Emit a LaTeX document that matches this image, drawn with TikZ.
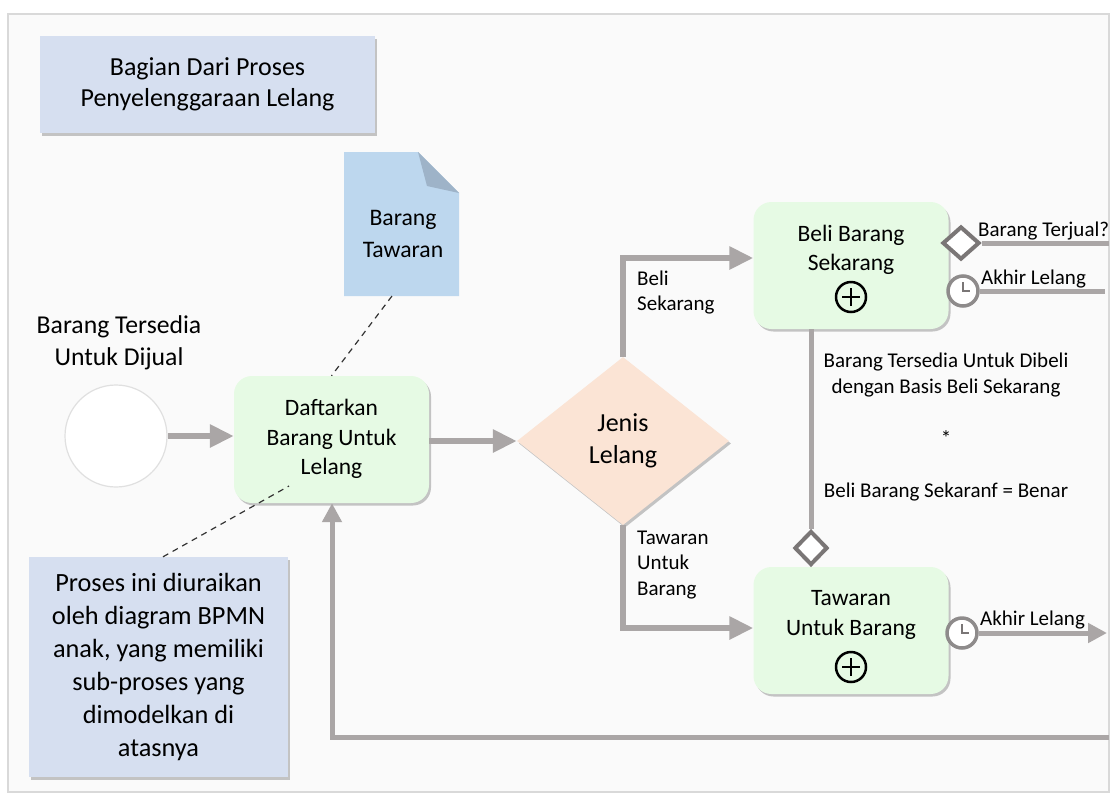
\documentclass[tikz,border=0pt]{standalone}
\usepackage{fontspec}
\setmainfont{Carlito}
\usetikzlibrary{shapes.geometric, arrows.meta, shadows}
\definecolor{flowgray}{RGB}{170,166,166}
\definecolor{markgray}{RGB}{122,118,118}
\definecolor{taskfill}{RGB}{230,250,228}
\definecolor{notefill}{RGB}{214,223,240}
\definecolor{gwfill}{RGB}{251,228,213}
\definecolor{docfill}{RGB}{189,215,238}
\definecolor{docfold}{RGB}{158,179,200}
\definecolor{framedraw}{RGB}{217,217,217}
\definecolor{framefill}{RGB}{250,250,250}
\newcommand{\fsz}[2]{\fontsize{#1pt}{#2pt}\selectfont}
\tikzset{
  shad/.style={drop shadow={opacity=0.22, shadow xshift=2pt, shadow yshift=-2.5pt, fill=black}},
  flow/.style={draw=flowgray, line width=6.5pt, -{Triangle[length=24pt,width=22pt]}},
  flowsm/.style={draw=flowgray, line width=5pt, -{Triangle[length=19pt,width=19pt]}},
  seqline/.style={draw=flowgray, line width=5pt},
  assoc/.style={draw=black!80, line width=1.2pt, dash pattern=on 6pt off 5pt},
  task/.style={rounded corners=18pt, fill=taskfill, minimum width=195pt, minimum height=127pt, inner sep=0pt, shad},
  tasktext/.style={align=center, font=\fsz{23.5}{29.5}, inner sep=0pt},
  note/.style={fill=notefill, inner sep=0pt, shad},
  lbl/.style={inner sep=0pt, font=\fsz{21}{25.5}},
  plusmark/.style={circle, draw=black, line width=2.5pt, minimum size=30pt, inner sep=0pt,
    path picture={\draw[line width=2.5pt] ([xshift=-9pt]path picture bounding box.center) -- ([xshift=9pt]path picture bounding box.center);
                  \draw[line width=2.5pt] ([yshift=-9pt]path picture bounding box.center) -- ([yshift=9pt]path picture bounding box.center);}},
  timer/.style={circle, draw=markgray!85, line width=3.5pt, fill=white, minimum size=30pt, inner sep=0pt,
    path picture={\draw[markgray, line width=2pt] ([yshift=9pt]path picture bounding box.center) -- (path picture bounding box.center) -- ([xshift=7pt]path picture bounding box.center);}},
  condmark/.style={diamond, draw=markgray, line width=4pt, fill=white, inner sep=0pt},
}
\begin{document}
\begin{tikzpicture}[x=1pt, y=-1pt]
\useasboundingbox (0,0) rectangle (1113,793);
% frame
\draw[draw=framedraw, fill=framefill, line width=1.2pt] (8,14) rectangle (1109,792);

% title note
\node[note, minimum width=335pt, minimum height=97pt, align=center, font=\fsz{26}{31}] (title) at (207.5,84.5) {Bagian Dari Proses\\Penyelenggaraan Lelang};

% document
\fill[docfill] (344,152) -- (418,152) -- (459,193) -- (459,296) -- (344,296) -- cycle;
\fill[docfold] (418,152) -- (459,193) -- (427,186) -- cycle;
\node[align=center, inner sep=0pt, font=\fsz{23.7}{32}] (doc) at (403,234) {Barang\\Tawaran};
\coordinate (docb) at (392,296);

% start event
\node[align=center, inner sep=0pt, font=\fsz{25.7}{32}] (startlbl) at (119,343) {Barang Tersedia\\Untuk Dijual};
\node[circle, draw=black!12, line width=1.2pt, fill=white, minimum size=102pt, inner sep=0pt] (start) at (116,436) {};

% register task
\node[task] (daft) at (331.5,439.5) {};
\node[tasktext] (dafttxt) at (331.5,439) {Daftarkan\\Barang Untuk\\Lelang};

% gateway
\node[diamond, fill=gwfill, minimum width=212pt, minimum height=168pt, inner sep=0pt, shad, align=center, font=\fsz{26}{32}] (gw) at (623,441) {Jenis\\Lelang};

% buy now task
\node[task] (beli) at (851,265.5) {};
\node[tasktext] (belitxt) at (851,250) {Beli Barang\\Sekarang};
\node[plusmark] (beliplus) at (851,297) {};

% bid task
\node[task] (taw) at (851,630.5) {};
\node[tasktext] (tawtxt) at (851,615) {Tawaran\\Untuk Barang};
\node[plusmark] (tawplus) at (851,667) {};

% annotation
\node[note, minimum width=259pt, minimum height=220pt, align=center, font=\fsz{26.3}{33}] (ann) at (158.5,667) {Proses ini diuraikan\\oleh diagram BPMN\\anak, yang memiliki\\sub-proses yang\\dimodelkan di\\atasnya};

% flows
\draw[flow] (start.east) -- (start.east -| daft.west);
\draw[flow] (gw.west -| daft.east) -- (gw.west);
\draw[flow] (gw.north) |- ([yshift=7.5pt]beli.west);
\draw[flow] (gw.south) |- ([yshift=2.5pt]taw.west);
\node[lbl, anchor=west, align=left] (lblbeli) at (637,292.5) {Beli\\Sekarang};
\node[lbl, anchor=west, align=left] (lbltaw) at (637,565) {Tawaran\\Untuk\\Barang};

% conditional flow
\node[condmark, minimum width=33pt, minimum height=34pt] (cond) at (811,548) {};
\draw[seqline] (cond.north |- beli.south) -- (cond.north);
\node[lbl, align=center, font=\fsz{21}{26}] (condtxt1) at (946,375) {Barang Tersedia Untuk Dibeli\\dengan Basis Beli Sekarang};
\node[lbl] (condtxt2) at (946,438) {*};
\node[lbl] (condtxt3) at (946,492) {Beli Barang Sekaranf = Benar};

% boundary events on buy-now
\node[condmark, minimum width=37pt, minimum height=33pt] (bd) at (961,243) {};
\coordinate (bdend) at (1109,243);
\draw[seqline] (bd.east) -- (bdend);
\node[lbl, anchor=west] (bdlbl) at (978,231) {Barang Terjual?};

\node[timer] (t1) at (963,291) {};
\coordinate (t1end) at (1105,291);
\draw[seqline] (t1.east) -- (t1end);
\node[lbl, anchor=west] (t1lbl) at (981,279) {Akhir Lelang};

% boundary timer on bid
\node[timer] (t2) at (962,633) {};
\coordinate (t2end) at (1107,633);
\draw[flowsm] (t2.east) -- (t2end);
\node[lbl, anchor=west] (t2lbl) at (980,620) {Akhir Lelang};

% loop back
\coordinate (loopstart) at (1109,737);
\draw[flowsm] (loopstart) -| ([xshift=0.5pt]daft.south);

% associations
\coordinate (annend) at (289,486);
\draw[assoc] ([xshift=4.5pt]ann.north) -- (annend);
\draw[assoc] (docb) -- (daft.north);
\end{tikzpicture}
\end{document}
